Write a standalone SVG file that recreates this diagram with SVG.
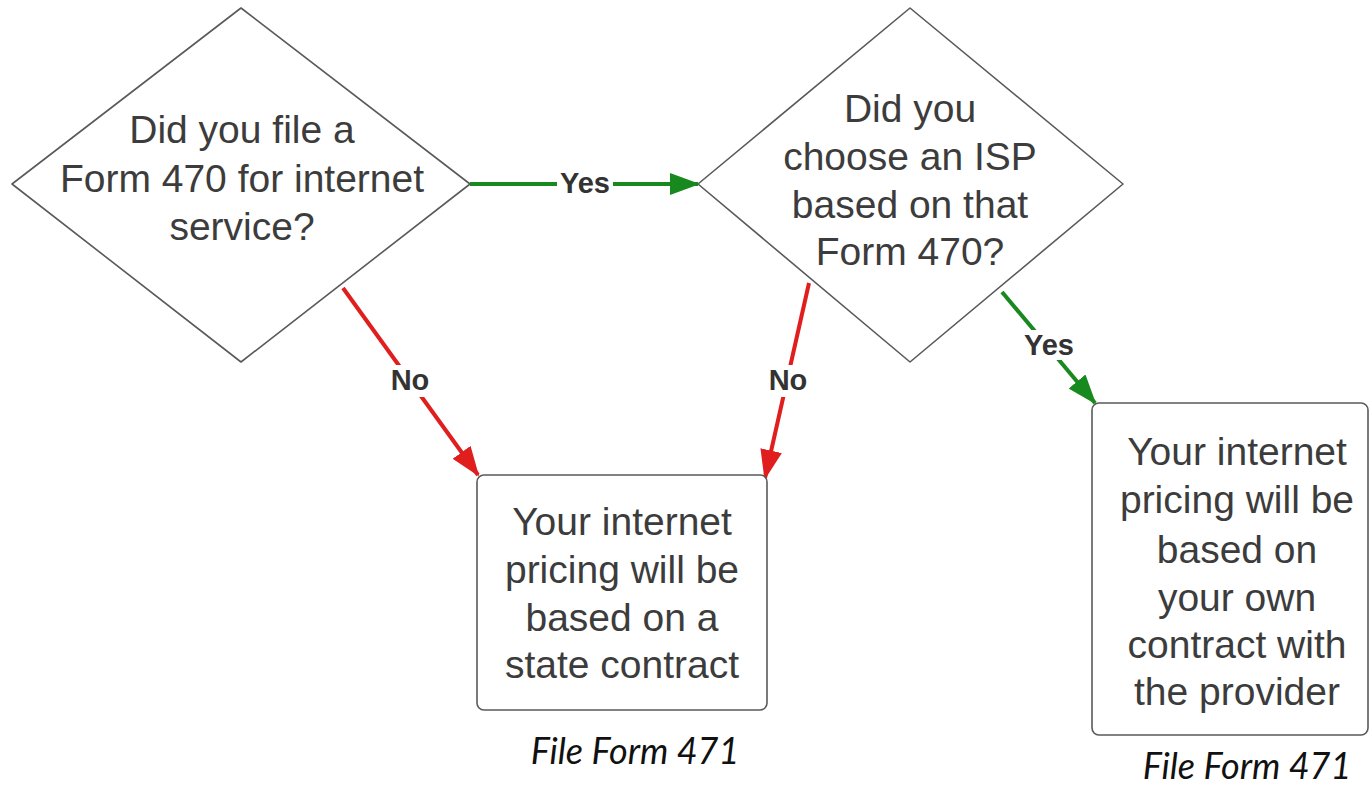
<svg xmlns="http://www.w3.org/2000/svg" width="1372" height="786" viewBox="0 0 1372 786">
<style>
.shape{fill:#ffffff;stroke:#5a5a5a;stroke-width:1.6;stroke-linejoin:round}
.nt{font-family:"Liberation Sans",Arial,sans-serif;font-size:39px;fill:#3c3c3c;text-anchor:middle}
.lbl{font-family:"Liberation Sans",Arial,sans-serif;font-size:29px;font-weight:bold;fill:#333333;text-anchor:middle}
.note{font-family:Lato,"Liberation Sans",sans-serif;font-style:italic;font-size:36px;fill:#111111;text-anchor:middle}
.g{stroke:#17891f;stroke-width:4;fill:none}
.r{stroke:#e01e1e;stroke-width:4;fill:none}
</style>
<defs>
<marker id="ag" viewBox="0 0 30 22" refX="28" refY="11" markerWidth="30" markerHeight="22" markerUnits="userSpaceOnUse" orient="auto"><path d="M0,0 L30,11 L0,22 z" fill="#17891f"/></marker>
<marker id="ar" viewBox="0 0 30 22" refX="28" refY="11" markerWidth="30" markerHeight="22" markerUnits="userSpaceOnUse" orient="auto"><path d="M0,0 L30,11 L0,22 z" fill="#e01e1e"/></marker>
</defs>
<rect width="1372" height="786" fill="#ffffff"/>
<g id="connectors">
<line class="g" x1="470" y1="184" x2="698" y2="184" marker-end="url(#ag)"/>
<line class="r" x1="343" y1="288" x2="478" y2="475" marker-end="url(#ar)"/>
<line class="r" x1="809" y1="283" x2="765" y2="478" marker-end="url(#ar)"/>
<line class="g" x1="1002" y1="292" x2="1095" y2="403" marker-end="url(#ag)"/>
<rect x="557" y="166" width="56" height="30" fill="#ffffff"/>
<text class="lbl" x="585" y="193">Yes</text>
<rect x="389" y="365" width="42" height="32" fill="#ffffff"/>
<text class="lbl" x="410" y="390">No</text>
<rect x="767" y="365" width="42" height="32" fill="#ffffff"/>
<text class="lbl" x="788" y="390">No</text>
<rect x="1021" y="330" width="56" height="30" fill="#ffffff"/>
<text class="lbl" x="1049" y="355">Yes</text>
</g>
<g id="q1">
<path class="shape" d="M241,8 L470,184 L241,362 L12,184 Z"/>
<text class="nt" x="242" y="143">Did you file a</text>
<text class="nt" x="242" y="192">Form 470 for internet</text>
<text class="nt" x="242" y="240">service?</text>
</g>
<g id="q2">
<path class="shape" d="M910,8 L1123,184 L910,362 L698,184 Z"/>
<text class="nt" x="910" y="122">Did you</text>
<text class="nt" x="910" y="170">choose an ISP</text>
<text class="nt" x="910" y="218">based on that</text>
<text class="nt" x="910" y="265">Form 470?</text>
</g>
<g id="state">
<rect class="shape" x="477" y="475" width="290" height="235" rx="7"/>
<text class="nt" x="622" y="535">Your internet</text>
<text class="nt" x="622" y="583">pricing will be</text>
<text class="nt" x="622" y="631">based on a</text>
<text class="nt" x="622" y="678">state contract</text>
<text class="note" x="635" y="764">File Form 471</text>
</g>
<g id="own">
<rect class="shape" x="1092" y="403" width="276" height="332" rx="7"/>
<text class="nt" x="1237" y="465">Your internet</text>
<text class="nt" x="1237" y="513">pricing will be</text>
<text class="nt" x="1237" y="563">based on</text>
<text class="nt" x="1237" y="611">your own</text>
<text class="nt" x="1237" y="658">contract with</text>
<text class="nt" x="1237" y="705">the provider</text>
<text class="note" x="1247" y="779">File Form 471</text>
</g>
</svg>
